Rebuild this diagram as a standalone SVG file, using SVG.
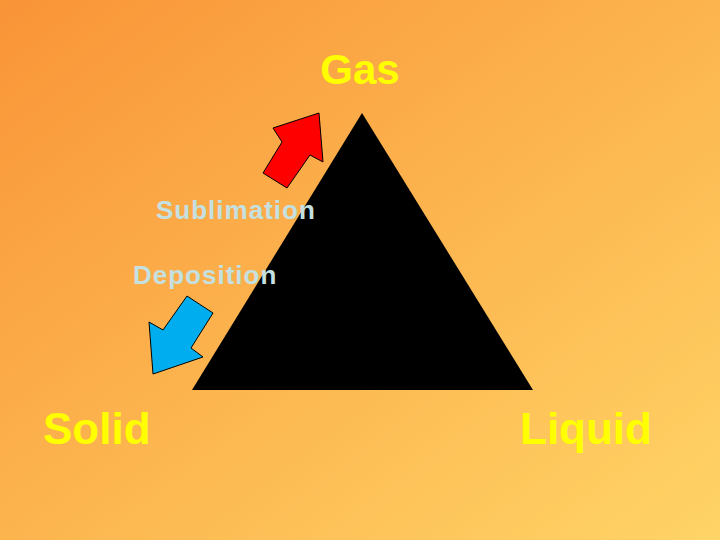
<svg xmlns="http://www.w3.org/2000/svg" width="720" height="540" viewBox="0 0 720 540">
<defs>
<linearGradient id="bg" x1="0" y1="0" x2="1" y2="1">
<stop offset="0" stop-color="#F99437"/>
<stop offset="1" stop-color="#FFD466"/>
</linearGradient>
<style>
.big{font-family:"Liberation Sans",Arial,sans-serif;font-weight:bold;fill:#FFFF00}
.lbl{font-family:"Liberation Sans",Arial,sans-serif;font-weight:bold;fill:#C4E0E0;font-size:26px;letter-spacing:1px}
.arr{stroke:#000;stroke-width:1}
</style>
</defs>
<rect width="720" height="540" fill="url(#bg)"/>
<g id="triangle"><polygon points="362,113 192,390 533,390" fill="#000"/></g>
<g id="connectors">
<polygon class="arr" fill="#FF0000" points="319,113 323,162 310,155 287,188 263,173 282,142 273,128"/>
<polygon class="arr" fill="#00AEEF" points="187,296 213,313 191,348 203,357 153,374 149,322 163,330"/>
</g>
<g id="gas"><text class="big" x="360" y="84" font-size="42" text-anchor="middle">Gas</text></g>
<g id="solid"><text class="big" x="43" y="444" font-size="44">Solid</text></g>
<g id="liquid"><text class="big" x="520" y="444" font-size="44">Liquid</text></g>
<g id="sublimation"><text class="lbl" x="156" y="219">Sublimation</text></g>
<g id="deposition"><text class="lbl" x="133" y="284">Deposition</text></g>
</svg>
